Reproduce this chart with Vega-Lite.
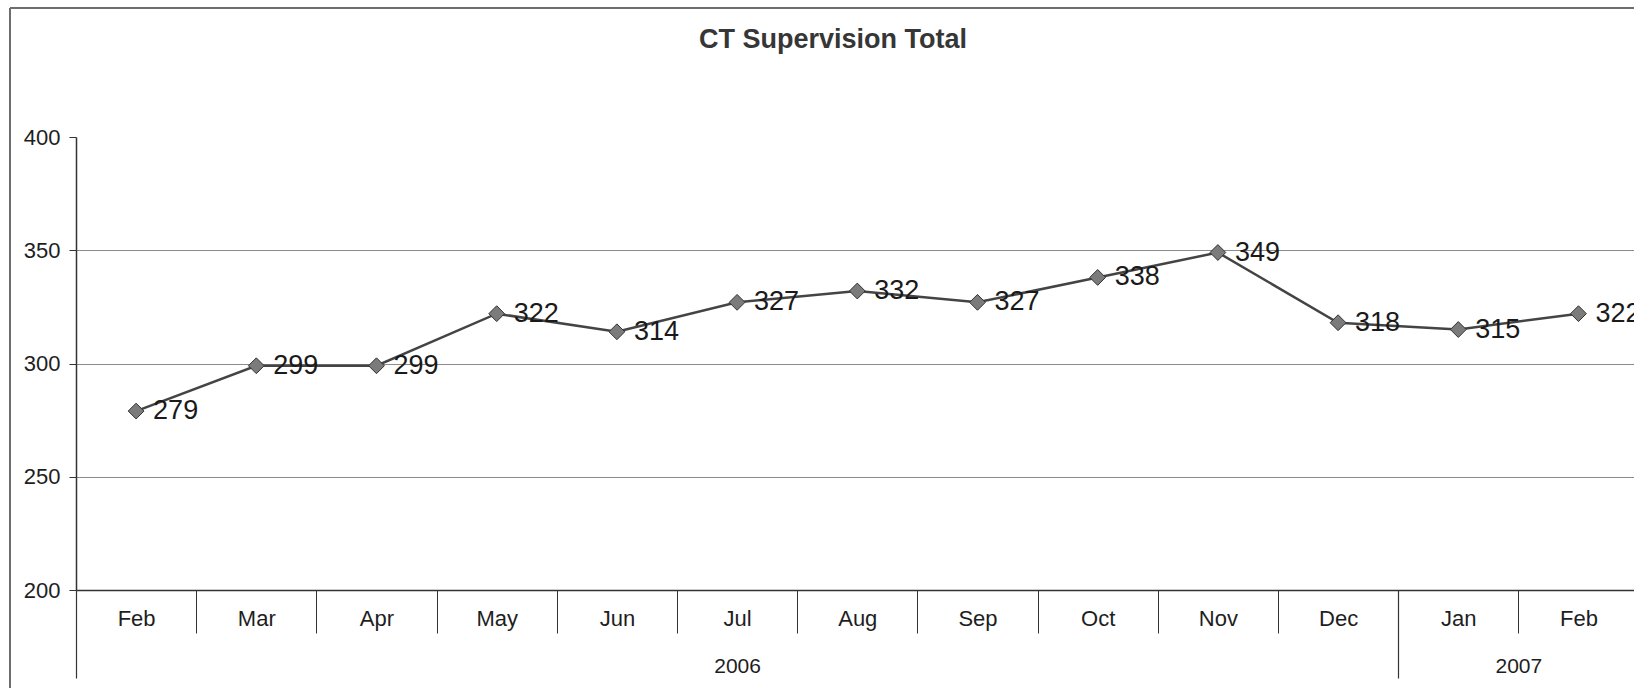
{
  "$schema": "https://vega.github.io/schema/vega-lite/v6.json",
  "width": 1558,
  "height": 453,
  "autosize": {"type": "none"},
  "padding": {"left": 76, "top": 137, "right": 0, "bottom": 98},
  "background": "white",
  "title": {
    "text": "CT Supervision Total",
    "fontSize": 27,
    "fontWeight": "bold",
    "font": "Liberation Sans",
    "color": "#363636",
    "anchor": "middle",
    "dx": -22,
    "baseline": "alphabetic",
    "offset": -68
  },
  "config": {"view": {"stroke": null}, "font": "Liberation Sans"},
  "data": {
    "values": [
      {"i": 0, "month": "Feb", "year": 2006, "value": 279},
      {"i": 1, "month": "Mar", "year": 2006, "value": 299},
      {"i": 2, "month": "Apr", "year": 2006, "value": 299},
      {"i": 3, "month": "May", "year": 2006, "value": 322},
      {"i": 4, "month": "Jun", "year": 2006, "value": 314},
      {"i": 5, "month": "Jul", "year": 2006, "value": 327},
      {"i": 6, "month": "Aug", "year": 2006, "value": 332},
      {"i": 7, "month": "Sep", "year": 2006, "value": 327},
      {"i": 8, "month": "Oct", "year": 2006, "value": 338},
      {"i": 9, "month": "Nov", "year": 2006, "value": 349},
      {"i": 10, "month": "Dec", "year": 2006, "value": 318},
      {"i": 11, "month": "Jan", "year": 2007, "value": 315},
      {"i": 12, "month": "Feb", "year": 2007, "value": 322}
    ]
  },
  "resolve": {"axis": {"x": "independent", "y": "independent"}},
  "layer": [
    {
      "mark": {"type": "line", "color": "#444444", "strokeWidth": 2.5},
      "encoding": {
        "x": {
          "field": "i", "type": "quantitative",
          "scale": {"domain": [-0.5, 12.462], "nice": false, "zero": false},
          "axis": {
            "orient": "bottom",
            "title": null,
            "values": [0, 1, 2, 3, 4, 5, 6, 7, 8, 9, 10, 11, 12],
            "labelExpr": "['Feb','Mar','Apr','May','Jun','Jul','Aug','Sep','Oct','Nov','Dec','Jan','Feb'][datum.value]",
            "ticks": false, "tickSize": 0,
            "grid": false,
            "domain": true, "domainColor": "#333333", "domainWidth": 1.5,
            "labelFont": "Liberation Sans", "labelFontSize": 22, "labelColor": "#1e1e1e",
            "labelBaseline": "middle", "labelPadding": 28,
            "labelFlush": false, "labelOverlap": false, "labelBound": false
          }
        },
        "y": {
          "field": "value", "type": "quantitative",
          "scale": {"domain": [200, 400], "nice": false, "zero": false},
          "axis": {
            "orient": "left",
            "title": null,
            "values": [200, 250, 300, 350, 400],
            "grid": true, "gridColor": "#8c8c8c", "gridWidth": 1,
            "gridOpacity": {"condition": {"test": "datum.value == 400 || datum.value == 200", "value": 0}, "value": 1},
            "domain": true, "domainColor": "#333333", "domainWidth": 1.5,
            "ticks": true, "tickSize": 7, "tickColor": "#333333",
            "labelFont": "Liberation Sans", "labelFontSize": 22, "labelColor": "#1e1e1e",
            "labelPadding": 9, "labelFlush": false, "labelOverlap": false
          }
        }
      }
    },
    {
      "mark": {"type": "point", "shape": "diamond", "filled": true, "size": 250, "fill": "#7b7b7b", "stroke": "#333333", "strokeWidth": 1, "opacity": 1},
      "encoding": {
        "x": {
          "field": "i", "type": "quantitative",
          "scale": {"domain": [-0.5, 12.462], "nice": false, "zero": false},
          "axis": {
            "orient": "bottom",
            "title": null,
            "values": [0.5, 1.5, 2.5, 3.5, 4.5, 5.5, 6.5, 7.5, 8.5, 9.5, 11.5],
            "labels": false, "domain": false, "grid": false,
            "ticks": true, "tickSize": 43, "tickColor": "#333333", "tickWidth": 1
          }
        },
        "y": {"field": "value", "type": "quantitative", "scale": {"domain": [200, 400], "nice": false, "zero": false}, "axis": null}
      }
    },
    {
      "mark": {"type": "text", "align": "left", "baseline": "middle", "dx": 17, "fontSize": 27, "font": "Liberation Sans", "color": "#1a1a1a"},
      "encoding": {
        "x": {
          "field": "i", "type": "quantitative",
          "scale": {"domain": [-0.5, 12.462], "nice": false, "zero": false},
          "axis": {
            "orient": "bottom",
            "title": null,
            "values": [-0.5, 10.5],
            "labels": false, "domain": false, "grid": false,
            "ticks": true, "tickSize": 88, "tickColor": "#333333", "tickWidth": 1.2
          }
        },
        "y": {"field": "value", "type": "quantitative", "scale": {"domain": [200, 400], "nice": false, "zero": false}, "axis": null},
        "text": {"field": "value", "type": "quantitative"}
      }
    },
    {
      "mark": {"type": "rule", "color": "#6e6e6e", "strokeWidth": 1.2},
      "encoding": {
        "x": {
          "datum": -1.049, "type": "quantitative",
          "scale": {"domain": [-0.5, 12.462], "nice": false, "zero": false},
          "axis": {
            "orient": "bottom",
            "title": null,
            "values": [5, 11.5],
            "labelExpr": "datum.value < 10 ? '2006' : '2007'",
            "ticks": false, "tickSize": 0, "domain": false, "grid": false,
            "labelFont": "Liberation Sans", "labelFontSize": 21, "labelColor": "#1e1e1e",
            "labelBaseline": "middle", "labelPadding": 76,
            "labelFlush": false, "labelOverlap": false, "labelBound": false
          }
        },
        "y": {"datum": 457, "type": "quantitative", "axis": null},
        "y2": {"datum": 150}
      }
    },
    {
      "mark": {"type": "rule", "color": "#6e6e6e", "strokeWidth": 1.2},
      "encoding": {
        "x": {"datum": -1.049, "type": "quantitative", "axis": null},
        "x2": {"datum": 13.5},
        "y": {"datum": 457, "type": "quantitative", "axis": null}
      }
    }
  ]
}
